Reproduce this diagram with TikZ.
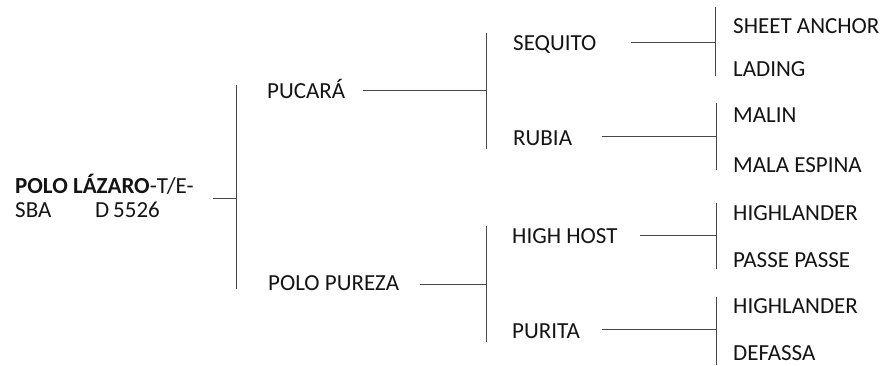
\documentclass[tikz,border=0pt]{standalone}
\usepackage{fontspec}
\setmainfont{Carlito}
\begin{document}
\begin{tikzpicture}[x=1pt,y=-1pt,
  lbl/.style={anchor=base west,inner sep=0pt,font=\fontsize{23}{25}\selectfont,text=black!92},
  conn/.style={draw=black!72,line width=0.9pt}]
\useasboundingbox (0,0) rectangle (882,365);
% root
\node[lbl] (root1) at (15,193) {\textbf{POLO LÁZARO}-T/E-};
\node[lbl] (root2) at (15,217) {\makebox[80pt][l]{SBA}\makebox[18pt][l]{D}5526};
% level 1
\node[lbl] (pucara) at (267,98) {PUCARÁ};
\node[lbl] (pureza) at (268,290) {POLO PUREZA};
% level 2
\node[lbl] (sequito) at (513,50) {SEQUITO};
\node[lbl] (rubia) at (513,145) {RUBIA};
\node[lbl] (highhost) at (512,243) {HIGH HOST};
\node[lbl] (purita) at (512,338) {PURITA};
% level 3
\node[lbl] (sheet) at (733,33) {SHEET ANCHOR};
\node[lbl] (lading) at (733,76) {LADING};
\node[lbl] (malin) at (733,122) {MALIN};
\node[lbl] (mala) at (733,172) {MALA ESPINA};
\node[lbl] (highlA) at (733,220) {HIGHLANDER};
\node[lbl] (passe) at (733,267) {PASSE PASSE};
\node[lbl] (highlB) at (733,313) {HIGHLANDER};
\node[lbl] (defassa) at (733,360) {DEFASSA};
% bars
\coordinate (b0t) at (236,85);  \coordinate (b0b) at (236,289);
\coordinate (b1t) at (486,33);  \coordinate (b1b) at (486,149);
\coordinate (b2t) at (486,226); \coordinate (b2b) at (486,342);
\coordinate (b3t) at (715,7);   \coordinate (b3b) at (715,76);
\coordinate (b4t) at (716,103); \coordinate (b4b) at (716,170);
\coordinate (b5t) at (716,203); \coordinate (b5b) at (716,269);
\coordinate (b6t) at (716,297); \coordinate (b6b) at (716,365);
\foreach \i in {0,...,6} {\draw[conn] (b\i t) -- (b\i b);}
% stems
\coordinate (s0) at (213,198);
\coordinate (s1) at (363,90);
\coordinate (s2) at (420,284);
\coordinate (s3) at (631,42);
\coordinate (s4) at (602,136);
\coordinate (s5) at (640,235);
\coordinate (s6) at (602,329);
\draw[conn] (s0) -- (s0 -| b0t);
\draw[conn] (s1) -- (s1 -| b1t);
\draw[conn] (s2) -- (s2 -| b2t);
\draw[conn] (s3) -- (s3 -| b3t);
\draw[conn] (s4) -- (s4 -| b4t);
\draw[conn] (s5) -- (s5 -| b5t);
\draw[conn] (s6) -- (s6 -| b6t);
\end{tikzpicture}
\end{document}
